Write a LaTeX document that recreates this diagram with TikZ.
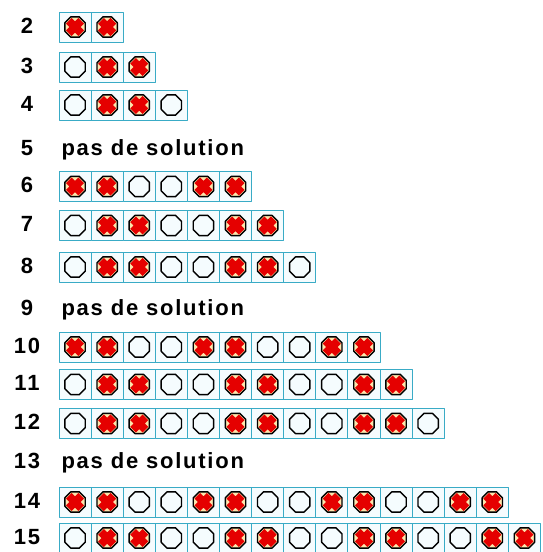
\documentclass[tikz,border=0pt]{standalone}
\usepackage{xcolor}
\usepackage{fontspec}
\usepackage{tikz}
\newfontfamily\boardfont[LetterSpace=8]{Liberation Sans}

\begin{document}
\begin{tikzpicture}[x=1pt,y=-1pt,line join=round,
  cell/.style={rectangle,draw=cyan!85!green!75!gray,fill=cyan!4,line width=0.9pt,
    minimum width=32.1pt,minimum height=30pt,inner sep=0pt},
  hole/.style={cell,path picture={
    \draw[black,line width=1.4pt,shift={(path picture bounding box.center)}]
      plot[samples=8,domain=22.5:337.5,variable=\ang] (\ang:11pt) -- cycle;}},
  peg/.style={cell,path picture={
    \begin{scope}[shift={(path picture bounding box.center)}]
      \fill[yellow!40!orange!30!white] plot[samples=8,domain=22.5:337.5,variable=\ang] (\ang:11pt) -- cycle;
      \draw[red!90!black,line width=8pt] (-6.2,-6.2) -- (6.2,6.2) (-6.2,6.2) -- (6.2,-6.2);
      \fill[red!90!black] (0,0) circle (5.5pt);
      \draw[black,line width=1.4pt] plot[samples=8,domain=22.5:337.5,variable=\ang] (\ang:11pt) -- cycle;
    \end{scope}}},
  num/.style={anchor=base,font=\boardfont\bfseries\fontsize{22}{24}\selectfont},
  nosol/.style={anchor=base west,font=\boardfont\bfseries\fontsize{22}{24}\selectfont}]
  \useasboundingbox (0,0) rectangle (542,552);
  % row 2
  \node[num] (n2) at (27,33) {2};
  \node[peg] (r2c1) at (75.05,27) {};
  \node[peg] (r2c2) at (107.15,27) {};
  % row 3
  \node[num] (n3) at (27,73) {3};
  \node[hole] (r3c1) at (75.05,67) {};
  \node[peg] (r3c2) at (107.15,67) {};
  \node[peg] (r3c3) at (139.25,67) {};
  % row 4
  \node[num] (n4) at (27,111) {4};
  \node[hole] (r4c1) at (75.05,105) {};
  \node[peg] (r4c2) at (107.15,105) {};
  \node[peg] (r4c3) at (139.25,105) {};
  \node[hole] (r4c4) at (171.35,105) {};
  % row 5
  \node[num] (n5) at (27,155) {5};
  \node[nosol] (s5) at (58,155) {pas de solution};
  % row 6
  \node[num] (n6) at (27,192.5) {6};
  \node[peg] (r6c1) at (75.05,186.5) {};
  \node[peg] (r6c2) at (107.15,186.5) {};
  \node[hole] (r6c3) at (139.25,186.5) {};
  \node[hole] (r6c4) at (171.35,186.5) {};
  \node[peg] (r6c5) at (203.45,186.5) {};
  \node[peg] (r6c6) at (235.55,186.5) {};
  % row 7
  \node[num] (n7) at (27,231.5) {7};
  \node[hole] (r7c1) at (75.05,225.5) {};
  \node[peg] (r7c2) at (107.15,225.5) {};
  \node[peg] (r7c3) at (139.25,225.5) {};
  \node[hole] (r7c4) at (171.35,225.5) {};
  \node[hole] (r7c5) at (203.45,225.5) {};
  \node[peg] (r7c6) at (235.55,225.5) {};
  \node[peg] (r7c7) at (267.65,225.5) {};
  % row 8
  \node[num] (n8) at (27,273) {8};
  \node[hole] (r8c1) at (75.05,267) {};
  \node[peg] (r8c2) at (107.15,267) {};
  \node[peg] (r8c3) at (139.25,267) {};
  \node[hole] (r8c4) at (171.35,267) {};
  \node[hole] (r8c5) at (203.45,267) {};
  \node[peg] (r8c6) at (235.55,267) {};
  \node[peg] (r8c7) at (267.65,267) {};
  \node[hole] (r8c8) at (299.75,267) {};
  % row 9
  \node[num] (n9) at (27,315) {9};
  \node[nosol] (s9) at (58,315) {pas de solution};
  % row 10
  \node[num] (n10) at (27,353) {10};
  \node[peg] (r10c1) at (75.05,347) {};
  \node[peg] (r10c2) at (107.15,347) {};
  \node[hole] (r10c3) at (139.25,347) {};
  \node[hole] (r10c4) at (171.35,347) {};
  \node[peg] (r10c5) at (203.45,347) {};
  \node[peg] (r10c6) at (235.55,347) {};
  \node[hole] (r10c7) at (267.65,347) {};
  \node[hole] (r10c8) at (299.75,347) {};
  \node[peg] (r10c9) at (331.85,347) {};
  \node[peg] (r10c10) at (363.95,347) {};
  % row 11
  \node[num] (n11) at (27,390.5) {11};
  \node[hole] (r11c1) at (75.05,384.5) {};
  \node[peg] (r11c2) at (107.15,384.5) {};
  \node[peg] (r11c3) at (139.25,384.5) {};
  \node[hole] (r11c4) at (171.35,384.5) {};
  \node[hole] (r11c5) at (203.45,384.5) {};
  \node[peg] (r11c6) at (235.55,384.5) {};
  \node[peg] (r11c7) at (267.65,384.5) {};
  \node[hole] (r11c8) at (299.75,384.5) {};
  \node[hole] (r11c9) at (331.85,384.5) {};
  \node[peg] (r11c10) at (363.95,384.5) {};
  \node[peg] (r11c11) at (396.05,384.5) {};
  % row 12
  \node[num] (n12) at (27,429.5) {12};
  \node[hole] (r12c1) at (75.05,423.5) {};
  \node[peg] (r12c2) at (107.15,423.5) {};
  \node[peg] (r12c3) at (139.25,423.5) {};
  \node[hole] (r12c4) at (171.35,423.5) {};
  \node[hole] (r12c5) at (203.45,423.5) {};
  \node[peg] (r12c6) at (235.55,423.5) {};
  \node[peg] (r12c7) at (267.65,423.5) {};
  \node[hole] (r12c8) at (299.75,423.5) {};
  \node[hole] (r12c9) at (331.85,423.5) {};
  \node[peg] (r12c10) at (363.95,423.5) {};
  \node[peg] (r12c11) at (396.05,423.5) {};
  \node[hole] (r12c12) at (428.15,423.5) {};
  % row 13
  \node[num] (n13) at (27,468) {13};
  \node[nosol] (s13) at (58,468) {pas de solution};
  % row 14
  \node[num] (n14) at (27,508) {14};
  \node[peg] (r14c1) at (75.05,502) {};
  \node[peg] (r14c2) at (107.15,502) {};
  \node[hole] (r14c3) at (139.25,502) {};
  \node[hole] (r14c4) at (171.35,502) {};
  \node[peg] (r14c5) at (203.45,502) {};
  \node[peg] (r14c6) at (235.55,502) {};
  \node[hole] (r14c7) at (267.65,502) {};
  \node[hole] (r14c8) at (299.75,502) {};
  \node[peg] (r14c9) at (331.85,502) {};
  \node[peg] (r14c10) at (363.95,502) {};
  \node[hole] (r14c11) at (396.05,502) {};
  \node[hole] (r14c12) at (428.15,502) {};
  \node[peg] (r14c13) at (460.25,502) {};
  \node[peg] (r14c14) at (492.35,502) {};
  % row 15
  \node[num] (n15) at (27,544) {15};
  \node[hole] (r15c1) at (75.05,538) {};
  \node[peg] (r15c2) at (107.15,538) {};
  \node[peg] (r15c3) at (139.25,538) {};
  \node[hole] (r15c4) at (171.35,538) {};
  \node[hole] (r15c5) at (203.45,538) {};
  \node[peg] (r15c6) at (235.55,538) {};
  \node[peg] (r15c7) at (267.65,538) {};
  \node[hole] (r15c8) at (299.75,538) {};
  \node[hole] (r15c9) at (331.85,538) {};
  \node[peg] (r15c10) at (363.95,538) {};
  \node[peg] (r15c11) at (396.05,538) {};
  \node[hole] (r15c12) at (428.15,538) {};
  \node[hole] (r15c13) at (460.25,538) {};
  \node[peg] (r15c14) at (492.35,538) {};
  \node[peg] (r15c15) at (524.45,538) {};
\end{tikzpicture}
\end{document}
